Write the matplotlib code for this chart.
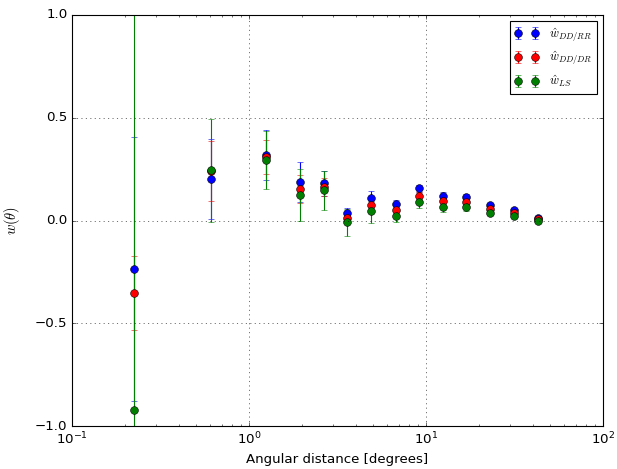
import numpy as np
import matplotlib
matplotlib.use("Agg")
import matplotlib.pyplot as plt

plt.style.use("classic")

# angular bins (degrees)
theta = [0.224, 0.61, 1.25, 1.94, 2.66, 3.58, 4.89, 6.78, 9.13,
         12.5, 16.8, 23.0, 31.4, 42.9]

# w(theta) estimators and their errors
w_ddrr = [-0.236, 0.203, 0.318, 0.187, 0.181, 0.035, 0.108, 0.080, 0.157,
          0.120, 0.116, 0.074, 0.051, 0.014]
e_ddrr = [0.64, 0.195, 0.12, 0.098, 0.06, 0.025, 0.036, 0.021, 0.016,
          0.02, 0.015, 0.01, 0.008, 0.006]

w_dddr = [-0.353, 0.240, 0.307, 0.153, 0.163, 0.014, 0.075, 0.050, 0.121,
          0.093, 0.090, 0.054, 0.038, 0.006]
e_dddr = [0.18, 0.147, 0.083, 0.068, 0.045, 0.02, 0.03, 0.02, 0.02,
          0.02, 0.015, 0.01, 0.008, 0.006]

w_ls = [-0.92, 0.244, 0.294, 0.124, 0.148, -0.009, 0.045, 0.023, 0.090,
        0.066, 0.064, 0.035, 0.023, -0.002]
e_ls = [2.5, 0.25, 0.14, 0.128, 0.095, 0.066, 0.057, 0.03, 0.031,
        0.023, 0.02, 0.01, 0.008, 0.006]


fig = plt.figure(figsize=(617/80, 469/80), dpi=80)
ax = fig.add_axes([72/617, 43/469, 531/617, 411/469])

ax.errorbar(theta, w_ddrr, yerr=e_ddrr, fmt="o", color="b",
            markersize=7, label=r"$\hat{w}_{DD/RR}$")
ax.errorbar(theta, w_dddr, yerr=e_dddr, fmt="o", color="r",
            markersize=7, label=r"$\hat{w}_{DD/DR}$")
ax.errorbar(theta, w_ls, yerr=e_ls, fmt="o", color="g",
            markersize=7, label=r"$\hat{w}_{LS}$")

ax.set_xscale("log")
ax.set_xlim(0.1, 100)
ax.set_ylim(-1.0, 1.0)
ax.set_yticks([-1.0, -0.5, 0.0, 0.5, 1.0])

ax.set_xlabel("Angular distance [degrees]")
ax.set_ylabel(r"$w(\theta)$", fontsize=13, labelpad=12)

ax.grid(True)
ax.legend(loc="upper right", numpoints=2, fontsize=11)

fig.savefig("out.png", dpi=80)
